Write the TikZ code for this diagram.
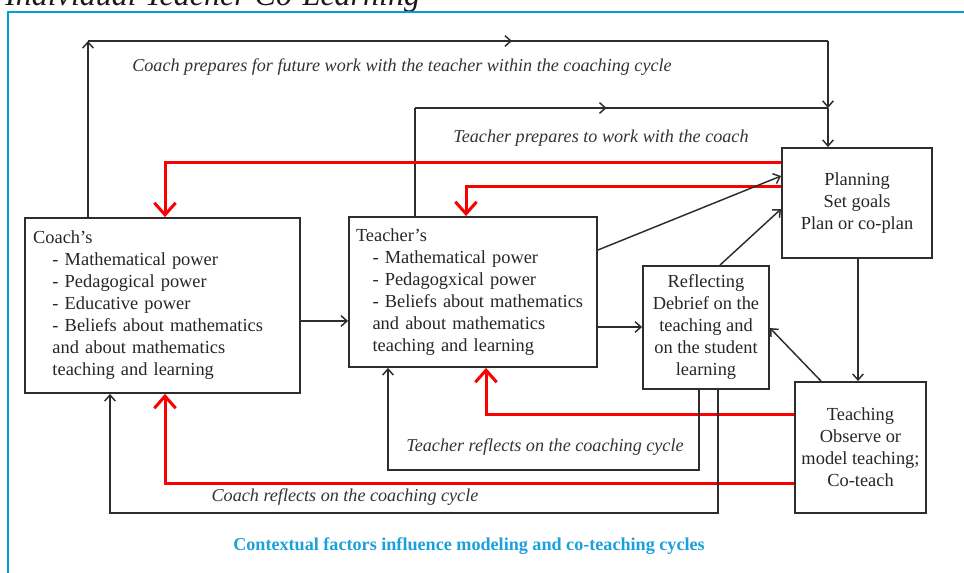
\documentclass[tikz,border=0pt]{standalone}
\usepackage{fontspec}
\setmainfont{Liberation Serif}
\usepackage{tikz}
\usetikzlibrary{arrows.meta, positioning, calc, decorations.markings}
\definecolor{FrameColor}{RGB}{0,158,219}
\definecolor{CaptionColor}{RGB}{28,160,219}
\definecolor{LineColor}{RGB}{45,45,45}
\definecolor{FlowRed}{RGB}{250,0,0}
\tikzstyle{box} = [draw=LineColor, line width=1.4pt, text=black!85, inner sep=6pt, font=\fontsize{13.8}{16.5}\selectfont]
\tikzstyle{blk} = [LineColor, line width=1.1pt, -{Straight Barb[length=4.5pt,width=8pt]}]
\tikzstyle{redarr} = [FlowRed, line width=2.25pt, -{Straight Barb[length=9pt,width=16pt]}]
\tikzstyle{lbl} = [text=black!80, font=\fontsize{13.6}{16}\selectfont\itshape]
\tikzset{midarrow/.style={postaction={decorate}, decoration={markings,
  mark=at position #1 with {\arrow{Straight Barb[length=4.5pt,width=8pt]}}}}}

\begin{document}
\begin{tikzpicture}[x=0.75pt, y=-0.75pt]
                \useasboundingbox (0,0) rectangle (964,573);
                \clip (0,0) rectangle (964,573);
                
                % frame and title
                \node[anchor=base west, inner sep=0pt, text=black!90, font=\fontsize{24}{28}\selectfont\itshape] (title) at (5,6) {Individual Teacher Co-Learning};
                \draw[FrameColor, line width=2.2pt] (8,590) -- (8,12) -- (980,12);
                
                % boxes
                \node[box, minimum width=206.25pt, minimum height=131.25pt, text width=194pt, align=left] (coach) at (162.5,305.5)
                    {Coach’s\\\hspace*{1.05em}- Mathematical power\\\hspace*{1.05em}- Pedagogical power\\\hspace*{1.05em}- Educative power\\\hspace*{1.05em}- Beliefs about mathematics\\\hspace*{1.05em}and about mathematics\\\hspace*{1.05em}teaching and learning};
                \node[box, minimum width=186pt, minimum height=112.5pt, text width=175.5pt, inner sep=5.25pt, align=left] (teacher) at (473,292)
                    {Teacher’s\\\hspace*{0.9em}- Mathematical power\\\hspace*{0.9em}- Pedagogxical power\\\hspace*{0.9em}- Beliefs about mathematics\\\hspace*{0.9em}and about mathematics\\\hspace*{0.9em}teaching and learning};
                \node[box, minimum width=94.5pt, minimum height=92.25pt, inner sep=2pt, align=center] (reflecting) at (706,327.5)
                    {Reflecting\\Debrief on the\\teaching and\\on the student\\learning};
                \node[box, minimum width=112.5pt, minimum height=82.5pt, align=center] (planning) at (857,203)
                    {Planning\\Set goals\\Plan or co-plan};
                \node[box, minimum width=98.25pt, minimum height=98.25pt, inner sep=2pt, align=center] (teaching) at (860.5,447.5)
                    {Teaching\\Observe or\\model teaching;\\Co-teach};
                
                % corners of the long connectors
                \coordinate (cpL) at (88,41);
                \coordinate (cpR) at (828,41);
                \coordinate (tpL) at (415,108);
                \coordinate (tpR) at (828,108);
                \coordinate (rcA) at (165,163);
                \coordinate (rtA) at (466,187);
                \coordinate (rtB) at (486,415);
                \coordinate (rcB) at (165,483);
                \coordinate (trL) at (388,470);
                \coordinate (trR) at (699,470);
                \coordinate (crL) at (110,513);
                \coordinate (crR) at (718,513);
                
                % preparing
                \draw[blk] (coach.north -| cpL) -- (cpL);
                \draw[LineColor, line width=1.1pt, midarrow=0.573] (cpL) -- (cpR);
                \draw[blk] (cpR) -- (tpR);
                \draw[blk] (tpR) -- (planning.north -| tpR);
                \draw[LineColor, line width=1.1pt] (teacher.north -| tpL) -- (tpL);
                \draw[LineColor, line width=1.1pt, midarrow=0.464] (tpL) -- (tpR);
                \node[lbl] (lblcp) at (402,67) {Coach prepares for future work with the teacher within the coaching cycle};
                \node[lbl] (lbltp) at (601,138) {Teacher prepares to work with the coach};
                
                % red loops
                \draw[redarr] (planning.west |- rcA) -- (rcA) -- (coach.north -| rcA);
                \draw[redarr] (planning.west |- rtA) -- (rtA) -- (teacher.north -| rtA);
                \draw[redarr] (teaching.west |- rtB) -- (rtB) -- (teacher.south -| rtB);
                \draw[redarr] (teaching.west |- rcB) -- (rcB) -- (coach.south -| rcB);
                
                % cycle
                \draw[blk] (teacher.east |- 0,250) -- (planning.west |- 0,176);
                \draw[blk] (reflecting.north -| 720,0) -- (planning.west |- 0,209);
                \draw[blk] (coach.east |- 0,321) -- (teacher.west |- 0,321);
                \draw[blk] (teacher.east |- 0,327) -- (reflecting.west |- 0,327);
                \draw[blk] (planning.south -| 858,0) -- (teaching.north -| 858,0);
                \draw[blk] (teaching.north -| 821,0) -- (reflecting.east |- 0,328);
                
                % reflecting back
                \draw[blk] (reflecting.south -| trR) -- (trR) -- (trL) -- (teacher.south -| trL);
                \draw[blk] (reflecting.south -| crR) -- (crR) -- (crL) -- (coach.south -| crL);
                \node[lbl] (lbltr) at (545,447) {Teacher reflects on the coaching cycle};
                \node[lbl] (lblcr) at (345,497) {Coach reflects on the coaching cycle};
                
                \node[text=CaptionColor, font=\fontsize{13.6}{16}\selectfont\bfseries] (caption) at (469,546) {Contextual factors influence modeling and co-teaching cycles};
\end{tikzpicture}
\end{document}
